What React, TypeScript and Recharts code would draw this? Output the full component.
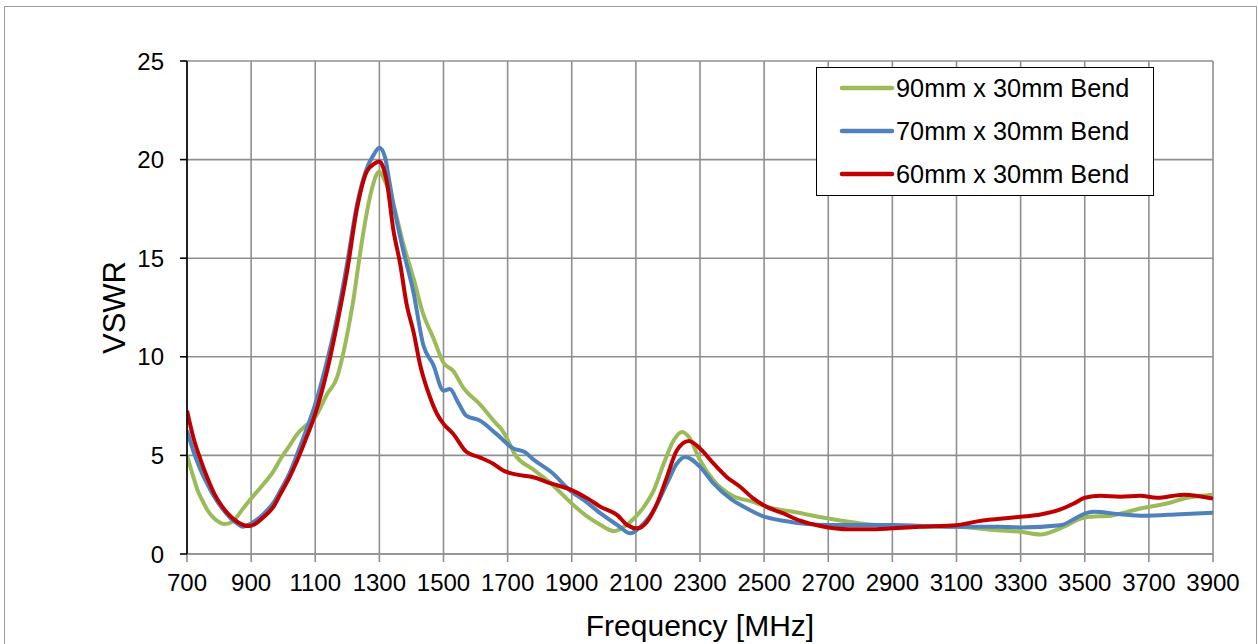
import React from 'react';
import { LineChart, Line, XAxis, YAxis, CartesianGrid, Legend } from 'recharts';

const xTicks = [700, 900, 1100, 1300, 1500, 1700, 1900, 2100, 2300, 2500, 2700, 2900, 3100, 3300, 3500, 3700, 3900];
const yTicks = [0, 5, 10, 15, 20, 25];

const seriesNames = ['90mm x 30mm Bend', '70mm x 30mm Bend', '60mm x 30mm Bend'];
const seriesColors = ['#9BBB59', '#4F81BD', '#C00000'];

const greenF = [700, 720, 733, 750, 764, 785, 800, 816, 830, 847, 870, 900, 940, 970, 992, 1020, 1044, 1070, 1100, 1137, 1168, 1189, 1205, 1220, 1235, 1251, 1272, 1290, 1300, 1313, 1330, 1344, 1375, 1406, 1437, 1468, 1500, 1530, 1561, 1613, 1665, 1679, 1700, 1721, 1783, 1835, 1900, 1949, 1990, 2032, 2063, 2094, 2125, 2156, 2187, 2218, 2244, 2265, 2300, 2342, 2404, 2466, 2508, 2591, 2700, 2800, 2900, 3000, 3100, 3227, 3300, 3362, 3424, 3500, 3590, 3673, 3756, 3819, 3900];
const greenV = [5.0, 3.9, 3.23, 2.65, 2.22, 1.8, 1.62, 1.52, 1.55, 1.72, 2.2, 2.81, 3.57, 4.2, 4.83, 5.5, 6.09, 6.5, 6.94, 8.11, 8.96, 10.3, 11.6, 13.0, 14.7, 16.4, 18.2, 19.2, 19.4, 19.06, 18.4, 17.7, 15.7, 14.0, 12.15, 10.97, 9.7, 9.29, 8.45, 7.6, 6.6, 6.36, 5.8, 5.09, 4.25, 3.58, 2.56, 1.89, 1.47, 1.16, 1.38, 1.8, 2.39, 3.24, 4.59, 5.77, 6.19, 5.94, 4.76, 3.74, 2.93, 2.65, 2.39, 2.14, 1.8, 1.55, 1.42, 1.4, 1.38, 1.21, 1.13, 0.99, 1.3, 1.85, 1.97, 2.31, 2.56, 2.85, 3.01];

const blueF = [700, 720, 743, 765, 785, 810, 837, 860, 873, 900, 940, 970, 992, 1020, 1044, 1070, 1100, 1137, 1168, 1199, 1230, 1261, 1282, 1300, 1318, 1330, 1344, 1375, 1406, 1437, 1468, 1500, 1520, 1545, 1572, 1613, 1665, 1718, 1752, 1783, 1835, 1900, 1938, 1990, 2042, 2083, 2114, 2156, 2197, 2228, 2254, 2300, 2342, 2394, 2446, 2500, 2560, 2700, 2900, 3000, 3100, 3227, 3300, 3424, 3470, 3500, 3528, 3611, 3684, 3798, 3900];
const blueV = [6.26, 5.2, 4.24, 3.5, 2.9, 2.3, 1.8, 1.5, 1.38, 1.55, 2.05, 2.6, 3.23, 4.1, 5.08, 6.2, 7.6, 9.8, 12.0, 14.7, 17.7, 19.56, 20.24, 20.6, 20.1, 19.0, 17.7, 15.35, 13.3, 10.6, 9.6, 8.28, 8.37, 7.7, 7.0, 6.77, 6.09, 5.35, 5.18, 4.76, 4.17, 3.15, 2.73, 2.06, 1.47, 1.05, 1.38, 2.23, 3.58, 4.59, 4.92, 4.42, 3.58, 2.82, 2.31, 1.89, 1.69, 1.47, 1.47, 1.42, 1.38, 1.38, 1.35, 1.46, 1.8, 2.05, 2.14, 2.02, 1.94, 2.02, 2.09];

const redF = [700, 720, 743, 765, 785, 810, 837, 860, 878, 895, 910, 940, 970, 992, 1020, 1044, 1070, 1100, 1137, 1168, 1199, 1230, 1261, 1285, 1300, 1312, 1323, 1344, 1365, 1385, 1406, 1427, 1458, 1480, 1500, 1530, 1572, 1613, 1655, 1690, 1721, 1783, 1835, 1900, 1949, 1990, 2042, 2073, 2104, 2135, 2166, 2197, 2228, 2265, 2300, 2342, 2383, 2425, 2466, 2508, 2560, 2612, 2675, 2768, 2821, 2900, 2987, 3100, 3175, 3227, 3300, 3362, 3424, 3466, 3500, 3549, 3611, 3673, 3725, 3809, 3900];
const redV = [7.27, 5.9, 4.75, 3.8, 3.06, 2.4, 1.89, 1.6, 1.46, 1.42, 1.5, 1.89, 2.4, 3.06, 3.9, 4.75, 5.8, 7.1, 9.3, 11.65, 14.3, 17.5, 19.4, 19.8, 19.9, 19.6, 18.9, 16.4, 14.7, 12.66, 11.3, 9.6, 7.95, 7.1, 6.6, 6.1, 5.17, 4.9, 4.58, 4.2, 4.05, 3.88, 3.58, 3.24, 2.82, 2.39, 1.97, 1.47, 1.3, 1.64, 2.56, 3.91, 5.26, 5.73, 5.35, 4.59, 3.91, 3.41, 2.82, 2.39, 2.06, 1.69, 1.42, 1.25, 1.25, 1.3, 1.38, 1.46, 1.68, 1.77, 1.89, 2.0, 2.26, 2.56, 2.85, 2.95, 2.9, 2.95, 2.85, 3.01, 2.81];

const toRows = (fs: number[], vs: number[]) => fs.map((f, i) => ({ f, v: vs[i] }));
const greenData = toRows(greenF, greenV);
const blueData = toRows(blueF, blueV);
const redData = toRows(redF, redV);

const FONT = '"Liberation Sans", Arial, sans-serif';
const GRID = '#8f8f8f';

const LegendBox = () => (
  <div style={{ width: 338, height: 129, boxSizing: 'border-box', border: '1.5px solid #000', background: '#fff' }}>
    <svg width={336} height={126} style={{ display: 'block' }}>
      {seriesNames.map((n, i) => (
        <g key={n}>
          <line x1={25} x2={75} y1={20 + i * 43} y2={20 + i * 43} stroke={seriesColors[i]} strokeWidth={4.5} strokeLinecap="round" />
          <text x={79} y={20 + i * 43 + 9} fontSize={25.3} fontFamily={FONT} fill="#000">{n}</text>
        </g>
      ))}
    </svg>
  </div>
);

const XTitle = () => (
  <text x={700} y={636} textAnchor="middle" fontSize={30} fontFamily={FONT} fill="#000">Frequency [MHz]</text>
);
const YTitle = () => (
  <text x={125} y={307.5} textAnchor="middle" fontSize={31} fontFamily={FONT} fill="#000" transform="rotate(-90, 125, 307.5)">VSWR</text>
);

export default function App() {
  return (
    <div style={{ position: 'fixed', left: 0, top: 0, width: 1258, height: 644, overflow: 'hidden', background: '#fff' }}>
      <div style={{ position: 'absolute', left: 4, top: 6, width: 1253, height: 700, boxSizing: 'border-box', border: '1.5px solid #9a9a9a' }} />
      <div style={{ position: 'absolute', left: 0, top: 0 }}>
        <LineChart width={1258} height={644} margin={{ top: 61, right: 45, left: 0, bottom: 0 }}>
          <CartesianGrid stroke={GRID} strokeWidth={1.6} horizontal vertical />
          <XAxis
            type="number"
            dataKey="f"
            domain={[700, 3900]}
            ticks={xTicks}
            interval={0}
            height={90}
            allowDataOverflow
            axisLine={{ stroke: GRID, strokeWidth: 1.6 }}
            tickLine={{ stroke: GRID, strokeWidth: 1.6 }}
            tickSize={8}
            tickMargin={12}
            tick={{ fontSize: 24, fill: '#000', fontFamily: FONT }}
            label={<XTitle />}
          />
          <YAxis
            type="number"
            domain={[0, 25]}
            ticks={yTicks}
            interval={0}
            width={187}
            axisLine={{ stroke: '#000', strokeWidth: 1.6 }}
            tickLine={{ stroke: '#000', strokeWidth: 1.6 }}
            tickSize={7}
            tickMargin={16}
            tick={{ fontSize: 24, fill: '#000', fontFamily: FONT }}
            label={<YTitle />}
          />
          <Line data={greenData} dataKey="v" name={seriesNames[0]} type="monotone" stroke={seriesColors[0]} strokeWidth={4} dot={false} isAnimationActive={false} />
          <Line data={blueData} dataKey="v" name={seriesNames[1]} type="monotone" stroke={seriesColors[1]} strokeWidth={4} dot={false} isAnimationActive={false} />
          <Line data={redData} dataKey="v" name={seriesNames[2]} type="monotone" stroke={seriesColors[2]} strokeWidth={4} dot={false} isAnimationActive={false} />
          <Legend
            layout="horizontal"
            verticalAlign="middle"
            align="center"
            content={() => <LegendBox />}
            wrapperStyle={{ left: 816, top: 67, width: 338, height: 129 }}
          />
        </LineChart>
      </div>
    </div>
  );
}
